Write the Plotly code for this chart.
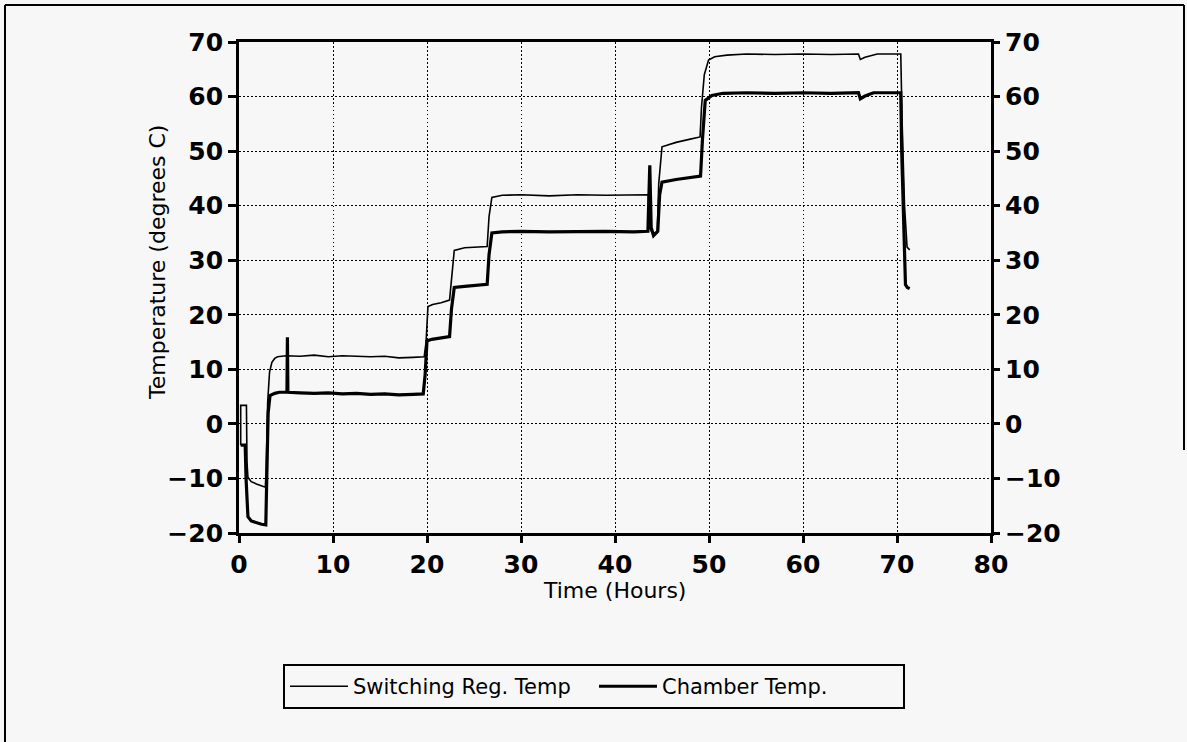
import plotly.graph_objects as go

# Switching regulator temperature (thin trace), hours vs degrees C
reg_time = [0.18, 0.18, 0.79, 0.85, 0.95, 1.3, 1.85, 2.4, 2.8, 2.9, 3.05, 3.25, 3.5, 3.8, 4.1,
            5.0, 6.5, 8.0, 9.5, 11.0, 12.5, 14.0, 15.5, 17.0, 18.5, 19.7, 19.9, 20.1, 20.6, 21.5, 22.4,
            22.6, 22.9, 24.0, 25.5, 26.4, 26.6, 26.9, 28.0, 30.0, 33.0, 36.0, 39.0, 42.0, 43.55,
            43.65, 44.0, 44.5, 44.65, 45.0, 46.5, 48.0, 49.05, 49.2, 49.5, 49.95, 50.6, 51.9,
            54.0, 57.0, 60.0, 63.0, 65.9, 66.1, 66.6, 67.9, 69.0, 70.4, 70.55, 70.8, 71.07, 71.2, 71.35]
reg_temp = [-3.9, 3.4, 3.4, -7.0, -9.8, -10.6, -11.0, -11.3, -11.6, -8.0, 4.0, 9.5, 11.3, 12.0, 12.3,
            12.5, 12.4, 12.6, 12.3, 12.5, 12.4, 12.3, 12.4, 12.1, 12.2, 12.3, 15.0, 21.5, 21.9, 22.2, 22.7,
            27.0, 31.8, 32.3, 32.4, 32.5, 38.0, 41.5, 41.9, 42.0, 41.8, 42.0, 41.9, 42.0, 42.0,
            36.0, 34.9, 35.2, 44.0, 50.8, 51.6, 52.2, 52.6, 58.0, 64.0, 66.7, 67.3, 67.6,
            67.8, 67.7, 67.8, 67.7, 67.8, 66.8, 67.2, 67.8, 67.8, 67.8, 55.0, 40.0, 32.4, 32.1, 31.9]

# Chamber temperature (thick trace)
chamber_time = [0.18, 0.66, 0.75, 0.85, 0.95, 1.3, 1.9, 2.4, 2.85, 2.95, 3.1, 3.3, 3.8, 4.3,
                5.1, 5.15, 5.2, 6.5, 8.0, 9.5, 11.0, 12.5, 14.0, 15.5, 17.0, 18.5, 19.6, 19.8, 20.0,
                20.5, 21.5, 22.4, 22.6, 22.9, 24.0, 25.5, 26.4, 26.6, 26.9, 28.0, 30.0, 33.0, 36.0,
                39.0, 42.0, 43.5, 43.7, 43.85, 44.1, 44.55, 44.75, 45.0, 46.5, 48.0, 49.1, 49.3,
                49.6, 50.3, 51.5, 54.0, 57.0, 60.0, 63.0, 65.9, 66.1, 66.6, 67.5, 69.0, 70.4, 70.5,
                70.7, 70.9, 71.1, 71.35]
chamber_temp = [-3.9, -3.9, -10.0, -15.5, -17.0, -17.8, -18.2, -18.4, -18.5, -8.0, 2.0, 5.2, 5.6, 5.8,
                5.8, 15.9, 5.8, 5.7, 5.6, 5.7, 5.5, 5.6, 5.4, 5.5, 5.3, 5.4, 5.5, 9.0, 15.2,
                15.5, 15.7, 16.0, 21.0, 25.0, 25.2, 25.4, 25.6, 31.0, 35.0, 35.2, 35.3, 35.2, 35.3,
                35.3, 35.2, 35.3, 47.4, 36.0, 34.5, 35.3, 42.0, 44.3, 44.8, 45.1, 45.4, 52.0,
                59.3, 60.2, 60.6, 60.7, 60.6, 60.7, 60.6, 60.7, 59.6, 60.1, 60.7, 60.7, 60.7, 50.0,
                35.0, 25.5, 25.0, 24.8]

x_ticks = [0, 10, 20, 30, 40, 50, 60, 70, 80]
y_ticks = [-20, -10, 0, 10, 20, 30, 40, 50, 60, 70]

BG = "#f7f7f7"
INK = "#000000"
FONT = "DejaVu Sans"

fig = go.Figure()
fig.add_trace(go.Scatter(x=reg_time, y=reg_temp, mode="lines", name="Switching Reg. Temp",
                         line=dict(color=INK, width=1.6)))
fig.add_trace(go.Scatter(x=chamber_time, y=chamber_temp, mode="lines", name="Chamber Temp.",
                         line=dict(color=INK, width=3.2)))
# invisible trace carrying the right-hand temperature axis
fig.add_trace(go.Scatter(x=[None], y=[None], yaxis="y2", showlegend=False, hoverinfo="skip"))

tick_font = dict(family=FONT, size=25, color=INK, weight="bold")
title_font = dict(family=FONT, size=22, color=INK)
grid_dash = "1.5px,2.5px"

fig.update_layout(
    width=1187, height=742,
    margin=dict(l=239, r=196, t=42, b=209),
    paper_bgcolor=BG, plot_bgcolor=BG,
    font=dict(family=FONT, color=INK),
    xaxis=dict(range=[0, 80], tickvals=x_ticks, ticks="outside", ticklen=7, tickwidth=2.5,
               tickcolor=INK, showline=True, linewidth=2.8, linecolor=INK, mirror=True,
               showgrid=True, gridcolor=INK, gridwidth=1.4, griddash=grid_dash,
               zeroline=False, tickfont=tick_font),
    yaxis=dict(range=[-20, 70], tickvals=y_ticks, ticks="outside", ticklen=8, tickwidth=2.5,
               tickcolor=INK, showline=True, linewidth=2.8, linecolor=INK, mirror=True,
               showgrid=True, gridcolor=INK, gridwidth=1.4, griddash=grid_dash,
               zeroline=False, tickfont=tick_font),
    yaxis2=dict(range=[-20, 70], tickvals=y_ticks, overlaying="y", side="right",
                ticks="outside", ticklen=8, tickwidth=2.5, tickcolor=INK,
                showline=False, showgrid=False, zeroline=False, tickfont=tick_font),
    legend=dict(orientation="h", x=0.0585, y=-0.267, xanchor="left", yanchor="top",
                bgcolor=BG, bordercolor=INK, borderwidth=2,
                font=dict(family=FONT, size=21, color=INK), itemwidth=58,
                entrywidth=236, entrywidthmode="pixels"),
    showlegend=True,
    annotations=[
        dict(text="Temperature (degrees C)", xref="paper", yref="paper",
             x=(157 - 239) / 752, y=(533 - 263) / 491, xanchor="center", yanchor="middle",
             textangle=-90, showarrow=False, font=title_font),
        dict(text="Time (Hours)", xref="paper", yref="paper",
             x=(614 - 239) / 752, y=(533 - 590) / 491, xanchor="center", yanchor="middle",
             showarrow=False, font=title_font),
    ],
    shapes=[
        # page frame: top, left and right edges
        dict(type="line", xref="paper", yref="paper", x0=(5 - 239) / 752, x1=(1184 - 239) / 752,
             y0=(533 - 5) / 491, y1=(533 - 5) / 491, line=dict(color=INK, width=2)),
        dict(type="line", xref="paper", yref="paper", x0=(5 - 239) / 752, x1=(5 - 239) / 752,
             y0=(533 - 5) / 491, y1=(533 - 745) / 491, line=dict(color=INK, width=2)),
        dict(type="line", xref="paper", yref="paper", x0=(1184 - 239) / 752, x1=(1184 - 239) / 752,
             y0=(533 - 5) / 491, y1=(533 - 450) / 491, line=dict(color=INK, width=2)),
    ],
)

fig.write_html("out.html")
